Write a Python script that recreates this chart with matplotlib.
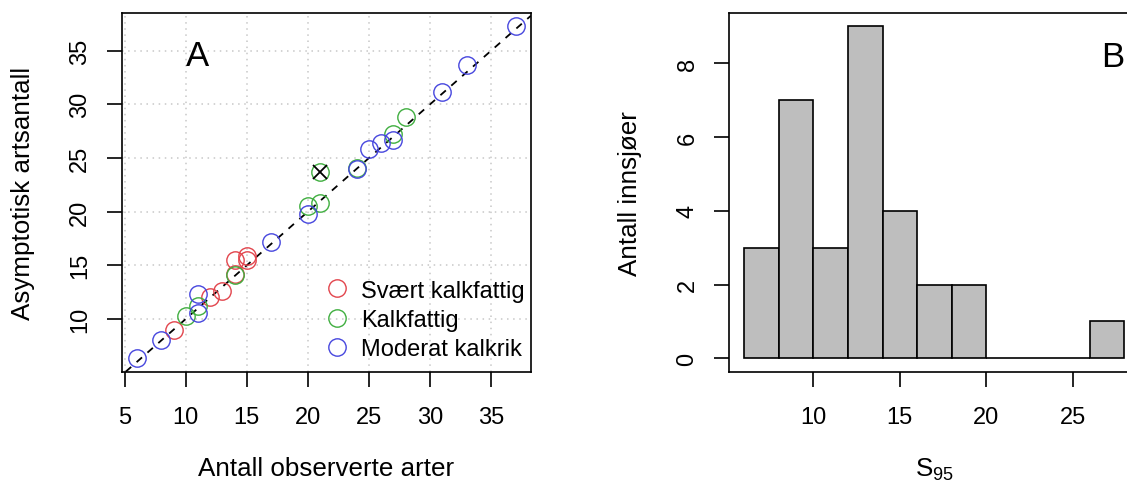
import matplotlib
matplotlib.use("Agg")
import matplotlib.pyplot as plt
from matplotlib.lines import Line2D

plt.rcParams['font.family'] = ['Liberation Sans', 'DejaVu Sans']
plt.rcParams['mathtext.fontset'] = 'custom'
plt.rcParams['mathtext.rm'] = 'Liberation Sans'
plt.rcParams['mathtext.it'] = 'Liberation Sans:italic'

# Panel A: observed vs asymptotic species numbers, per lake type
red_obs = [9, 12, 13, 14, 14, 15, 15]
red_asym = [9.0, 12.0, 12.6, 14.2, 15.5, 15.5, 15.9]
green_obs = [10, 11, 14, 20, 21, 21, 24, 27, 28]
green_asym = [10.3, 11.2, 14.1, 20.55, 20.8, 23.7, 24.1, 27.2, 28.8]
blue_obs = [6, 8, 11, 11, 17, 20, 24, 25, 26, 27, 31, 33, 37]
blue_asym = [6.35, 8.0, 10.6, 12.3, 17.15, 19.8, 24.0, 25.8, 26.4, 26.7, 31.1, 33.7, 37.25]
flagged = ([21], [23.7])

labels = ["Svært kalkfattig", "Kalkfattig", "Moderat kalkrik"]
colors = ["#E2444C", "#3FAE3F", "#4646DE"]

# Panel B: histogram of S95
bin_left = [6, 8, 10, 12, 14, 16, 18, 20, 22, 24, 26]
counts = [3, 7, 3, 9, 4, 2, 2, 0, 0, 0, 1]
bin_width = 2

fig = plt.figure(figsize=(11.27, 4.81), dpi=100)
ax1 = fig.add_axes([0.108, 0.2252, 0.3630, 0.7457])
ax2 = fig.add_axes([0.6469, 0.2252, 0.3643, 0.7457])

tick_fs = 17
lab_fs = 18.7

# --- panel A ---
for xs, ys, c in zip([red_obs, green_obs, blue_obs], [red_asym, green_asym, blue_asym], colors):
    ax1.plot(xs, ys, 'o', ms=12.5, mfc='none', mec=c, mew=1.0, zorder=3)
ax1.plot(flagged[0], flagged[1], 'x', ms=10, mec='black', mew=1.3, zorder=4)
ax1.axline((0, 0), slope=1, color='black', lw=1.3, dashes=(4, 4), zorder=2)
ax1.set_xlim(4.76, 38.24)
ax1.set_ylim(5.09, 38.5)
ax1.set_xticks([5, 10, 15, 20, 25, 30, 35])
ax1.set_yticks([10, 15, 20, 25, 30, 35])
ax1.grid(True, color='#C8C8C8', lw=1.1, linestyle=(0, (1, 3)), zorder=0)
ax1.set_axisbelow(True)
ax1.text(11.0, 34.5, "A", fontsize=25, ha='center', va='center')
ax1.set_xlabel("Antall observerte arter", fontsize=lab_fs)
ax1.set_ylabel("Asymptotisk artsantall", fontsize=lab_fs)
handles = [Line2D([], [], ls='none', marker='o', ms=12.5, mfc='none', mec=c, mew=1.0)
           for c in colors]
ax1.legend(handles, labels, loc='lower right', bbox_to_anchor=(1.013, 0.0), frameon=False,
           fontsize=17, handlelength=1.0, handletextpad=0.5, labelspacing=0.3,
           borderaxespad=0.2, borderpad=0.3)

# --- panel B ---
ax2.bar(bin_left, counts, width=bin_width, align='edge', color='#BEBEBE',
        edgecolor='black', linewidth=1.2)
ax2.set_xlim(5.12, 28.88)
ax2.set_ylim(-0.36, 9.36)
ax2.set_xticks([10, 15, 20, 25])
ax2.set_yticks([0, 2, 4, 6, 8])
ax2.text(27.3, 8.19, "B", fontsize=25, ha='center', va='center')
ax2.set_xlabel("S$_{\\mathrm{95}}$", fontsize=lab_fs)
ax2.set_ylabel("Antall innsjøer", fontsize=lab_fs)

for ax in (ax1, ax2):
    for sp in ax.spines.values():
        sp.set_linewidth(1.2)
    ax.tick_params(axis='both', direction='out', length=11, width=1.2, labelsize=tick_fs)
    ax.tick_params(axis='x', pad=14)
    ax.tick_params(axis='y', pad=11)
    for t in ax.get_yticklabels():
        t.set_rotation(90)
        t.set_va('center')
    ax.xaxis.set_label_coords(0.5, -0.235)
    ax.yaxis.set_label_coords(-0.212, 0.5)

fig.savefig("out.png", dpi=100)
